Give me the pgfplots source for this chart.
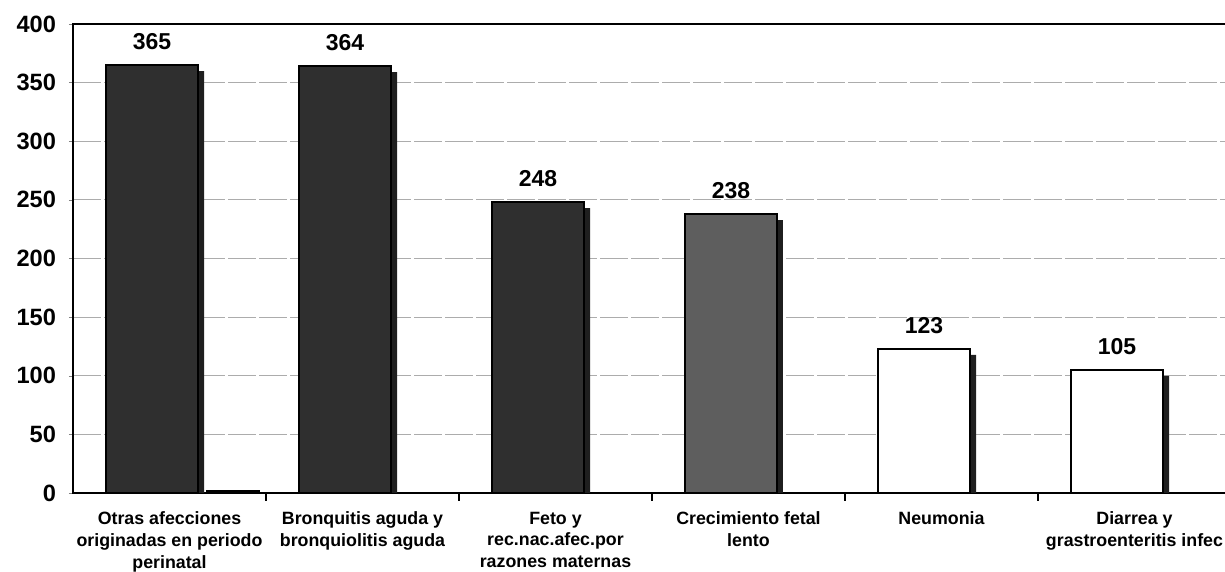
\documentclass[border=0pt]{standalone}
\usepackage{pgfplots}
\pgfplotsset{compat=1.18}
\usepackage{fontspec}
\setmainfont{Liberation Sans}
\definecolor{darkbar}{HTML}{2F2F2F}
\definecolor{midbar}{HTML}{5E5E5E}
\begin{document}
\begin{tikzpicture}
\useasboundingbox (-36.5pt,-39.5pt) rectangle (576pt,246.5pt);
\begin{axis}[
  at={(0,0)}, anchor=south west,
  width=579pt, height=234.5pt, scale only axis,
  xmin=-0.5, xmax=5.5, ymin=0, ymax=400,
  ytick={0,50,...,400},
  xtick={0,...,5},
  minor xtick={0.5,1.5,2.5,3.5,4.5},
  xtick pos=bottom, ytick pos=left,
  xticklabels={{Otras afecciones\\originadas en periodo\\perinatal},
               {Bronquitis aguda y\\bronquiolitis aguda},
               {Feto y\\rec.nac.afec.por\\razones maternas},
               {Crecimiento fetal\\lento},
               {Neumonia},
               {Diarrea y\\grastroenteritis infec}},
  xticklabel style={align=center, font=\fontsize{8.9}{10.8}\selectfont\bfseries, yshift=-4pt},
  yticklabel style={font=\fontsize{11.8}{13}\selectfont\bfseries, xshift=-3pt},
  /pgf/number format/assume math mode=true,
  major x tick style={draw=none},
  minor x tick style={draw=black, line width=0.6pt},
  minor tick length=4pt,
  major tick length=2pt,
  tick align=outside,
  ymajorgrids,
  grid style={gray!65, line width=0.5pt, dash pattern=on 14pt off 1.5pt},
  axis line style={line width=0.9pt},
  ybar, bar width=46pt,
  every axis plot/.append style={
    draw=black, line width=0.8pt,
    preaction={fill=black!88, draw=none, transform canvas={xshift=3pt, yshift=-3pt}}},
  nodes near coords,
  every node near coord/.append style={font=\fontsize{11.5}{13}\selectfont\bfseries, anchor=south, yshift=4pt, text=black},
]
\addplot[fill=darkbar, bar shift=-8.75pt] coordinates {(0,365) (1,364) (2,248)};
\addplot[fill=midbar, bar shift=-8.75pt] coordinates {(3,238)};
\addplot[fill=white, bar shift=-8.75pt] coordinates {(4,123) (5,105)};
\addplot[fill=darkbar, bar shift=31.75pt, bar width=26pt, nodes near coords={}] coordinates {(0,1.5)};
\end{axis}
\end{tikzpicture}
\end{document}
